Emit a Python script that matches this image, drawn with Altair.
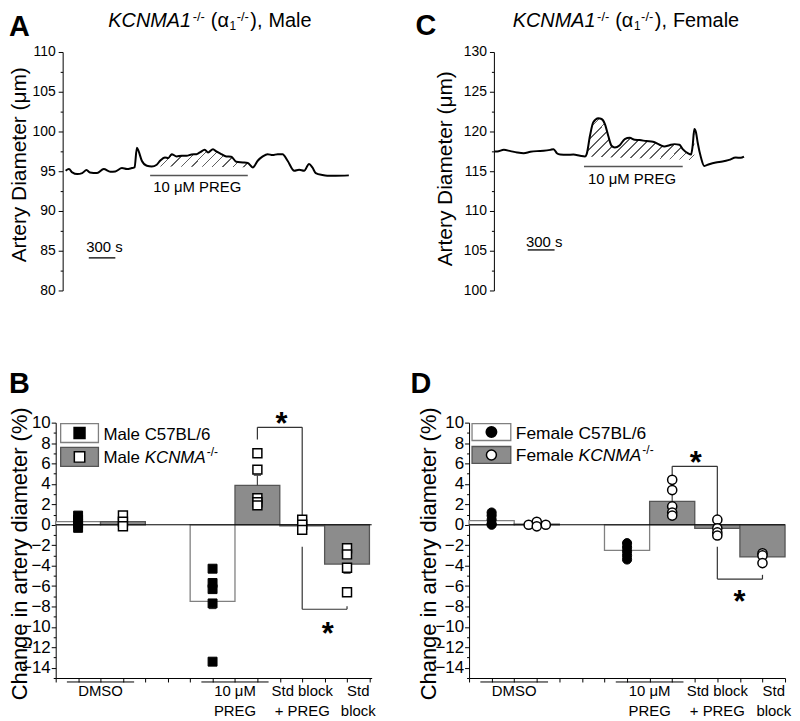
import altair as alt
import numpy as np
import pandas as pd

FONT = "Liberation Sans"
GRAY = "#8c8c8c"

# ---------------- Panel A trace (KCNMA1-/- male) : time (s), diameter (um)
a_time = [33, 70, 107, 163, 219, 267, 304, 385, 459, 533, 589, 663, 719, 774, 804, 830, 848,
          885, 941, 996, 1052, 1089, 1144, 1181, 1218, 1274, 1330, 1385, 1441, 1496, 1533, 1589,
          1626, 1681, 1718, 1774, 1830, 1885, 1941, 2015, 2070, 2126, 2181, 2237, 2292, 2348,
          2404, 2459, 2515, 2589, 2644, 2700, 2755, 2792, 2830, 2904, 2959, 3052, 3200]
a_diam = [95.06, 95.27, 94.85, 94.64, 94.77, 95.15, 94.85, 94.77, 95.27, 94.94, 94.98, 95.40,
          95.27, 95.40, 95.48, 97.95, 97.57, 96.32, 95.69, 95.61, 95.82, 96.32, 96.74, 96.65,
          97.15, 96.86, 96.95, 96.95, 97.11, 97.15, 97.36, 97.70, 97.36, 97.78, 97.49, 97.15,
          96.86, 96.82, 96.19, 96.11, 96.03, 95.48, 96.32, 96.86, 97.15, 97.03, 97.15, 97.15,
          96.32, 95.06, 95.19, 95.06, 95.90, 95.48, 94.77, 94.52, 94.44, 94.44, 94.48]
a_shade_t = [996, 2126]
a_shade_base = [95.6, 95.5]
a_preg_t = [978, 2070]
a_preg_y = 94.46
a_scale_t = [292, 589]
a_scale_y = 84.1

# ---------------- Panel C trace (KCNMA1-/- female)
c_time = [7, 37, 111, 185, 259, 333, 407, 481, 556, 630, 667, 704, 741, 815, 889, 963, 1018,
          1037, 1074, 1111, 1167, 1204, 1241, 1278, 1315, 1352, 1407, 1463, 1518, 1574, 1630,
          1704, 1778, 1852, 1907, 1963, 2018, 2074, 2111, 2167, 2204, 2222, 2241, 2259, 2278,
          2315, 2352, 2407, 2481, 2555, 2630, 2704, 2759, 2796]
c_diam = [117.48, 117.48, 117.69, 117.53, 117.36, 117.27, 117.44, 117.53, 117.57, 117.69,
          117.78, 117.27, 117.10, 117.06, 117.10, 116.94, 116.85, 117.15, 119.46, 121.15,
          121.66, 121.57, 120.94, 119.46, 118.20, 117.99, 118.28, 119.04, 119.21, 118.96,
          118.92, 118.79, 118.71, 118.33, 118.12, 118.28, 118.41, 118.33, 117.78, 117.27,
          117.10, 118.20, 120.30, 119.90, 118.62, 116.73, 115.67, 115.88, 116.09, 116.22,
          116.43, 116.73, 116.69, 116.85]
c_shade_t = [1018, 2241]
c_shade_base = [116.85, 116.4]
c_preg_t = [1007, 2111]
c_preg_y = 115.59
c_scale_t = [378, 678]
c_scale_y = 105.1

# ---------------- Bar panels
bar_pos = [1, 2, 4, 5, 6, 7]
bar_grp = ["wt", "ko", "wt", "ko", "ko", "ko"]

b_mean = [0.3, 0.3, -7.5, 3.85, -0.1, -3.85]
b_sem = [0.3, 0.25, 0.7, 1.0, 0.25, 0.9]
b_pts = [[0.9, 0.5, 0.1, -0.3], [0.9, 0.3, -0.15], [-4.3, -5.7, -6.3, -7.7, -13.4],
         [7.0, 5.4, 2.6, 2.2, 1.9], [0.5, 0.0, -0.5], [-2.3, -2.9, -4.2, -6.6]]
b_jit = [[0, 0, 0, 0], [0, 0, 0], [0, 0, 0, 0, 0], [0, 0, 0, 0, 0], [0, 0, 0], [0, 0, 0, 0]]

d_mean = [0.4, 0.05, -2.5, 2.3, -0.35, -3.15]
d_sem = [0.25, 0.1, 0.35, 0.85, 0.3, 0.35]
d_pts = [[1.2, 0.9, 0.5, 0.1, 0.0], [0.0, 0.3, -0.15, 0.0], [-1.8, -2.2, -2.6, -3.0, -3.4],
         [4.4, 3.4, 1.8, 1.2, 0.9], [0.5, -0.35, -0.75, -1.05], [-2.8, -3.0, -3.75]]
d_jit = [[0, 0, 0, 0, 0], [-0.18, 0, 0, 0.2], [0, 0, 0, 0, 0], [0, 0, 0, 0, 0], [0, 0, 0, 0],
         [0, 0, 0]]

# significance brackets: x1, y1, x2, y2
b_segs = [(5, 9.54, 6, 9.54), (5, 9.54, 5, 8.35), (6, 9.54, 6, 0.96),
          (6, -8.27, 7, -8.27), (6, -8.27, 6, -2.15), (7, -8.27, 7, -7.98)]
b_stars = [(5.54, 10.5), (6.57, -10.0)]
d_segs = [(5, 5.72, 6, 5.72), (5, 5.72, 5, 4.82), (6, 5.72, 6, 0.77),
          (6, -5.32, 7, -5.32), (6, -5.32, 6, -2.15), (7, -5.32, 7, -4.9)]
d_stars = [(5.52, 6.76), (6.49, -6.84)]

xlab_pos = [1.5, 4.5, 6.0, 7.25]
xlab_l1 = ["DMSO", "10 \u03bcM", "Std block", "Std"]
xlab_l2 = ["", "PREG", "+ PREG", "block"]
group_lines = [(0.75, 2.25), (3.75, 5.25)]

# ---------------- helpers
ADV = {' ': 278, '(': 333, ')': 333, ',': 278, '-': 333, '/': 278, '%': 889, '+': 584,
       'A': 667, 'B': 667, 'C': 722, 'D': 722, 'E': 667, 'F': 611, 'G': 778, 'K': 667,
       'L': 556, 'M': 833, 'N': 722, 'P': 667, 'R': 722, 'S': 667, 'a': 556, 'b': 556,
       'c': 500, 'd': 556, 'e': 556, 'k': 500, 'l': 222, 'm': 833, 'o': 556, 't': 278,
       '\u03bc': 576, '\u03b1': 560}


def tw(s, size):
    return sum(ADV.get(ch, 556) for ch in s) * size / 1000.0


one = pd.DataFrame({"k": [0]})


def txt(text, x, y, size, style="normal", weight="normal", align="left", baseline="alphabetic"):
    return alt.Chart(one).mark_text(
        text=text, font=FONT, fontSize=size, fontStyle=style, fontWeight=weight,
        align=align, baseline=baseline, color="black"
    ).encode(x=alt.value(x), y=alt.value(y))


def rich(pieces, x0, y0):
    """pieces: (text, size, style, dy, gap-before); no leading blanks (SVG strips them)."""
    out = []
    x = x0
    for text, size, style, dy, gap in pieces:
        x += gap
        out.append(txt(text, x, y0 + dy, size, style))
        x += tw(text, size)
    return out


def hatch(n, gx, gy, color="#606060", frac=0.13):
    clear = "rgba(255,255,255,0)"
    stops = [alt.GradientStop(offset=0, color=clear)]
    for i in range(n):
        s0 = (i + 0.5 - frac / 2) / n
        s1 = (i + 0.5 + frac / 2) / n
        stops += [alt.GradientStop(offset=s0, color=clear), alt.GradientStop(offset=s0, color=color),
                  alt.GradientStop(offset=s1, color=color), alt.GradientStop(offset=s1, color=clear)]
    stops.append(alt.GradientStop(offset=1, color=clear))
    return alt.LinearGradient(gradient="linear", stops=stops, x1=0, y1=0, x2=gx, y2=gy)


def trace_panel(time, diam, shade_t, shade_b, preg_t, preg_y, preg_lab, scale_t, scale_y,
                scale_lab, dom_t, dom_y, width, offset, title_x, title_y, hatch_n, hatch_g):
    H = 240
    xs = alt.Scale(domain=dom_t, nice=False, zero=False)
    ys = alt.Scale(domain=dom_y, nice=False, zero=False)
    yax = alt.Axis(values=[dom_y[0] + 2.5 * i for i in range(13)], format="d",
                   labelExpr="datum.value % 5 === 0 ? datum.label : ''",
                   tickSize={"condition": {"test": "datum.value % 5 !== 0", "value": 2.5}, "value": 4.5},
                   labelFontSize=14, labelPadding=3, labelOverlap=False, labelFlush=False,
                   grid=False, offset=offset, title="Artery Diameter (\u03bcm)", titleFontSize=21,
                   titleFontWeight="normal", titleX=title_x, titleY=title_y, titleAngle=270,
                   titleAlign="center", titleBaseline="middle")

    def X(f):
        return alt.X(f + ":Q", scale=xs, axis=None)

    def Y(f):
        return alt.Y(f + ":Q", scale=ys, axis=yax)

    df = pd.DataFrame({"t": time, "d": diam})
    sh = df[(df.t >= shade_t[0]) & (df.t <= shade_t[1])].copy()
    sh["b"] = np.interp(sh["t"], shade_t, shade_b)
    area = alt.Chart(sh).mark_area(color=hatch(hatch_n, *hatch_g), interpolate="monotone").encode(
        x=X("t"), y=Y("d"), y2=alt.Y2("b"))
    line = alt.Chart(df).mark_line(color="black", strokeWidth=2.0, interpolate="monotone").encode(
        x=X("t"), y=Y("d"))
    bars = pd.DataFrame({"t0": [preg_t[0], scale_t[0]], "t1": [preg_t[1], scale_t[1]],
                         "y": [preg_y, scale_y], "c": ["preg", "scale"]})
    preg = alt.Chart(bars[bars.c == "preg"]).mark_rule(color="#555555", strokeWidth=1.4).encode(
        x=X("t0"), x2=alt.X2("t1"), y=Y("y"))
    scl = alt.Chart(bars[bars.c == "scale"]).mark_rule(color="black", strokeWidth=1.3).encode(
        x=X("t0"), x2=alt.X2("t1"), y=Y("y"))
    labs = pd.DataFrame({"t": [preg_lab[0], scale_lab[0]], "y": [preg_lab[1], scale_lab[1]],
                         "s": ["10 \u03bcM PREG", "300 s"]})
    lab = alt.Chart(labs).mark_text(fontSize=15, align="center", baseline="alphabetic",
                                    color="black").encode(x=X("t"), y=Y("y"), text="s:N")
    return [area, preg, line, scl, lab], width, H


def title_pieces(sex):
    return [("KCNMA1", 20, "italic", 0, 0), ("-/-", 13, "normal", -6.5, 1.5),
            ("(\u03b1", 20, "normal", 0, 6), ("1", 12, "normal", 3, 1),
            ("-/-", 13, "normal", -6.5, 0.5), ("),", 20, "normal", 0, 1.5),
            (sex, 20, "normal", 0, 6)]


# ---------------- Panel A
A_layers, wa, ha = trace_panel(a_time, a_diam, a_shade_t, a_shade_base, a_preg_t, a_preg_y,
                               (1505, 92.38), a_scale_t, a_scale_y, (467, 84.8),
                               [-78, 3222], [80, 110], 297, -7, -43.5, 113, 12, (1.2, 0.216))
A_title = rich(title_pieces("Male"), 53, -25)
A = alt.layer(*A_layers, *A_title,
              txt("A", -47, -16, 29, weight="bold")).properties(width=wa, height=ha)

# ---------------- Panel C
C_layers, wc, hc = trace_panel(c_time, c_diam, c_shade_t, c_shade_base, c_preg_t, c_preg_y,
                               (1544, 113.4), c_scale_t, c_scale_y, (563, 105.5),
                               [-278, 2944], [100, 130], 290, -25, -49, 117, 15, (1.2, 0.456))
C_title = rich(title_pieces("Female"), 44, -25)
C = alt.layer(*C_layers, *C_title,
              txt("C", -54, -17, 29, weight="bold")).properties(width=wc, height=hc)


# ---------------- bar panels
def bar_panel(mean, sem, pts, jit, shape, dsize, lsize, xdom, width, segs, stars, title_x,
              sex, leg_sz, letter, letter_xy):
    H = 257
    xs = alt.Scale(domain=xdom, nice=False, zero=False)
    ys = alt.Scale(domain=[-15, 10], nice=False, zero=False)
    yax = alt.Axis(values=list(range(-15, 11)), format="d",
                   labelExpr="datum.value % 2 === 0 ? datum.label : ''",
                   tickSize={"condition": {"test": "datum.value % 2 !== 0", "value": 2.5}, "value": 4.5},
                   labelFontSize=17, labelPadding=1, labelOverlap=False, labelFlush=False,
                   grid=False, title="Change in artery diameter (%)", titleFontSize=22,
                   titleFontWeight="normal", titleX=title_x, titleY=131.5, titleAngle=270,
                   titleAlign="center", titleBaseline="middle")
    xax = alt.Axis(values=[0.5 + 0.5 * i for i in range(15)], labels=False, tickSize=4,
                   grid=False, title=None)

    def X(f):
        return alt.X(f + ":Q", scale=xs, axis=xax)

    def Y(f):
        return alt.Y(f + ":Q", scale=ys, axis=yax)

    bdf = pd.DataFrame({"pos": bar_pos, "grp": bar_grp, "mean": mean, "sem": sem})
    bdf["x0"] = bdf["pos"] - 0.5
    bdf["x1"] = bdf["pos"] + 0.5
    bdf["zero"] = 0.0
    bdf["end"] = bdf["mean"] + np.where(bdf["mean"] >= 0, 1, -1) * bdf["sem"]
    bdf["c0"] = bdf["pos"] - 0.08
    bdf["c1"] = bdf["pos"] + 0.08

    wt_bars = alt.Chart(bdf[bdf.grp == "wt"]).mark_rect(
        fill="white", stroke="#808080", strokeWidth=1.3).encode(
        x=X("x0"), x2=alt.X2("x1"), y=Y("mean"), y2=alt.Y2("zero"))
    ko_bars = alt.Chart(bdf[bdf.grp == "ko"]).mark_rect(
        fill=GRAY, stroke="#555555", strokeWidth=1.3).encode(
        x=X("x0"), x2=alt.X2("x1"), y=Y("mean"), y2=alt.Y2("zero"))
    err = alt.Chart(bdf).mark_rule(color="#444444", strokeWidth=1.2).encode(
        x=X("pos"), y=Y("mean"), y2=alt.Y2("end"))
    cap = alt.Chart(bdf).mark_rule(color="#444444", strokeWidth=1.2).encode(
        x=X("c0"), x2=alt.X2("c1"), y=Y("end"))
    zero = alt.Chart(pd.DataFrame({"z": [0.0]})).mark_rule(color="black", strokeWidth=1).encode(
        y=Y("z"))

    rows = []
    for p, g, vals, js in zip(bar_pos, bar_grp, pts, jit):
        for v, j in zip(vals, js):
            rows.append({"x": p + j, "v": v, "grp": g})
    pdf = pd.DataFrame(rows)
    wt_pts = alt.Chart(pdf[pdf.grp == "wt"]).mark_point(
        shape=shape, filled=True, fill="black", stroke="black", strokeWidth=1, size=dsize,
        opacity=1).encode(x=X("x"), y=Y("v"))
    ko_pts = alt.Chart(pdf[pdf.grp == "ko"]).mark_point(
        shape=shape, filled=True, fill="white", stroke="black", strokeWidth=1.5, size=dsize,
        opacity=1).encode(x=X("x"), y=Y("v"))

    sdf = pd.DataFrame(segs, columns=["xa", "ya", "xb", "yb"])
    brk = alt.Chart(sdf).mark_rule(color="#333333", strokeWidth=1.2).encode(
        x=X("xa"), y=Y("ya"), x2=alt.X2("xb"), y2=alt.Y2("yb"))
    stdf = pd.DataFrame(stars, columns=["x", "y"])
    st = alt.Chart(stdf).mark_text(text="*", fontSize=31, fontWeight="bold", baseline="middle",
                                   align="center", dy=8, color="black").encode(
        x=X("x"), y=Y("y"))

    gdf = pd.DataFrame(group_lines, columns=["a", "b"])
    gl = alt.Chart(gdf).mark_rule(color="black", strokeWidth=1).encode(
        x=X("a"), x2=alt.X2("b"), y=alt.value(261))
    ldf = pd.DataFrame({"x": xlab_pos, "l1": xlab_l1, "l2": xlab_l2})
    xl1 = alt.Chart(ldf).mark_text(fontSize=15, baseline="middle", align="center",
                                   color="black").encode(x=X("x"), y=alt.value(270.5), text="l1:N")
    xl2 = alt.Chart(ldf).mark_text(fontSize=15, baseline="middle", align="center",
                                   color="black").encode(x=X("x"), y=alt.value(290.5), text="l2:N")

    # legend
    bx0, bx1 = leg_sz["box"]
    (wy0, wy1), (gy0, gy1) = leg_sz["rows"]
    leg = [
        alt.Chart(one).mark_rect(fill="white", stroke="#808080", strokeWidth=1.3).encode(
            x=alt.value(bx0), x2=alt.value(bx1), y=alt.value(wy0), y2=alt.value(wy1)),
        alt.Chart(one).mark_rect(fill=GRAY, stroke="#555555", strokeWidth=1.3).encode(
            x=alt.value(bx0), x2=alt.value(bx1), y=alt.value(gy0), y2=alt.value(gy1)),
        alt.Chart(one).mark_point(shape=shape, filled=True, fill="black", stroke="black",
                                  size=lsize, opacity=1).encode(
            x=alt.value((bx0 + bx1) / 2), y=alt.value((wy0 + wy1) / 2)),
        alt.Chart(one).mark_point(shape=shape, filled=True, fill="white", stroke="black",
                                  strokeWidth=1.5, size=lsize, opacity=1).encode(
            x=alt.value((bx0 + bx1) / 2), y=alt.value((gy0 + gy1) / 2)),
        txt(sex + " C57BL/6", leg_sz["tx"], (wy0 + wy1) / 2 + 6.5, leg_sz["fs"]),
    ]
    leg += rich([(sex, leg_sz["fs"], "normal", 0, 0),
                 ("KCNMA", leg_sz["fs"], "italic", 0, leg_sz["fs"] * 0.278),
                 ("-/-", 12, "normal", -7, 1)], leg_sz["tx"], (gy0 + gy1) / 2 + 6.5)

    layers = [wt_bars, ko_bars, err, cap, zero, brk, wt_pts, ko_pts, st, gl, xl1, xl2] + leg + [
        txt(letter, letter_xy[0], letter_xy[1], 29, weight="bold")]
    return alt.layer(*layers).properties(width=width, height=H)


B = bar_panel(b_mean, b_sem, b_pts, b_jit, "square", 81, 110, [0.5, 7.55], 318, b_segs,
              b_stars, -36.5, "Male",
              {"box": (5, 43), "rows": ((1, 20), (25, 44)), "tx": 48, "fs": 17}, "B", (-47, -30))
D = bar_panel(d_mean, d_sem, d_pts, d_jit, "circle", 85, 100, [0.5, 7.5], 318, d_segs,
              d_stars, -41, "Female",
              {"box": (3, 42), "rows": ((1, 18), (24, 41)), "tx": 47, "fs": 17.5}, "D", (-59, -30))

chart = alt.concat(A, C, B, D, columns=2, spacing={"row": 116, "column": 98},
                   bounds="flush", align="all").properties(
    padding={"left": 0, "top": 0, "right": 0, "bottom": 0}
).configure(font=FONT).configure_view(strokeWidth=0).configure_axis(
    labelFont=FONT, titleFont=FONT, domainColor="black", tickColor="black",
    labelColor="black", titleColor="black", domainWidth=1, tickWidth=1)

chart.save("out.html", embed_options={"renderer": "svg", "actions": False})
